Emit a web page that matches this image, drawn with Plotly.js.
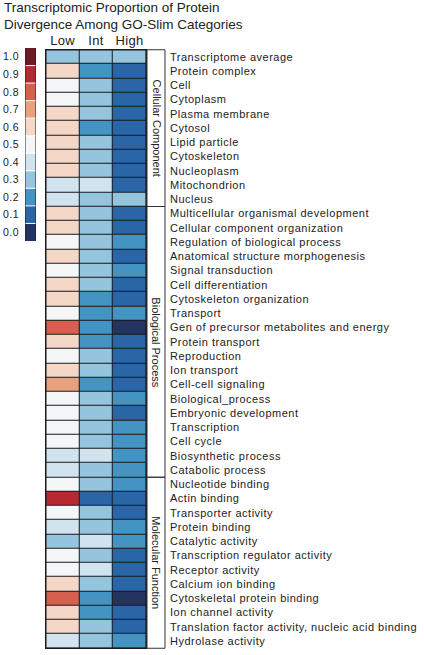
<!DOCTYPE html>
<html>
<head>
<meta charset="utf-8">
<script src="https://cdn.plot.ly/plotly-3.0.1.min.js"></script>
<style>
html,body{margin:0;padding:0;background:#fff;}
#chart{width:424px;height:655px;}
#chart .ytick text, #chart .y2tick text {letter-spacing:0.5px;}
#chart .xtick text {letter-spacing:0.3px;}
</style>
</head>
<body>
<div id="chart"></div>
<script>
// ---- data ----
const columns = ["Low", "Int", "High"];
const rowLabels = [
  "Transcriptome average",
  "Protein complex", "Cell", "Cytoplasm", "Plasma membrane", "Cytosol",
  "Lipid particle", "Cytoskeleton", "Nucleoplasm", "Mitochondrion", "Nucleus",
  "Multicellular organismal development", "Cellular component organization",
  "Regulation of biological process", "Anatomical structure morphogenesis",
  "Signal transduction", "Cell differentiation", "Cytoskeleton organization",
  "Transport", "Gen of precursor metabolites and energy", "Protein transport",
  "Reproduction", "Ion transport", "Cell-cell signaling", "Biological_process",
  "Embryonic development", "Transcription", "Cell cycle", "Biosynthetic process",
  "Catabolic process",
  "Nucleotide binding", "Actin binding", "Transporter activity", "Protein binding",
  "Catalytic activity", "Transcription regulator activity", "Receptor activity",
  "Calcium ion binding", "Cytoskeletal protein binding", "Ion channel activity",
  "Translation factor activity, nucleic acid binding", "Hydrolase activity"
];
const lowVals = [
  0.3,
  0.6, 0.5, 0.5, 0.6, 0.6, 0.6, 0.6, 0.6, 0.4, 0.4,
  0.6, 0.6, 0.5, 0.6, 0.5, 0.6, 0.6, 0.5, 0.8, 0.6,
  0.5, 0.6, 0.7, 0.5, 0.5, 0.5, 0.5, 0.4, 0.4,
  0.5, 0.9, 0.5, 0.4, 0.3, 0.5, 0.5, 0.6, 0.8, 0.6, 0.6, 0.4
];
const intVals = [
  0.3,
  0.2, 0.3, 0.3, 0.3, 0.2, 0.3, 0.3, 0.3, 0.4, 0.3,
  0.3, 0.3, 0.3, 0.3, 0.3, 0.3, 0.2, 0.2, 0.2, 0.2,
  0.3, 0.3, 0.2, 0.3, 0.3, 0.3, 0.3, 0.4, 0.3,
  0.3, 0.1, 0.3, 0.3, 0.4, 0.3, 0.4, 0.3, 0.2, 0.2, 0.3, 0.3
];
const highVals = [
  0.3,
  0.1, 0.1, 0.1, 0.1, 0.1, 0.1, 0.1, 0.1, 0.1, 0.3,
  0.1, 0.1, 0.2, 0.1, 0.2, 0.1, 0.1, 0.2, 0.0, 0.1,
  0.1, 0.1, 0.1, 0.2, 0.1, 0.2, 0.2, 0.2, 0.2,
  0.2, 0.1, 0.1, 0.2, 0.2, 0.1, 0.1, 0.1, 0.0, 0.1, 0.1, 0.2
];
const groupNames = ["Cellular Component", "Biological Process", "Molecular Function"];
const groupSizes = [11, 19, 12];

const legendVals = [1.0, 0.9, 0.8, 0.7, 0.6, 0.5, 0.4, 0.3, 0.2, 0.1, 0.0];
const legendLabels = ["1.0", "0.9", "0.8", "0.7", "0.6", "0.5", "0.4", "0.3", "0.2", "0.1", "0.0"];
const levelColors = [ // for 0.0 ... 1.0
  "#24335f", "#2a65a8", "#4393c3", "#95c5de", "#d0e3ef", "#f5f6f7",
  "#f5d7c8", "#e8a07f", "#d6604d", "#b52a32", "#6e1a24"
];

// ---- build ----
const W = 424, H = 655;
const px = v => v / W;
const py = v => 1 - v / H;

const n = levelColors.length;
const colorscale = [];
levelColors.forEach((c, k) => {
  colorscale.push([k / n, c]);
  colorscale.push([(k + 1) / n, c]);
});

const z = rowLabels.map((_, i) => [lowVals[i], intVals[i], highVals[i]]);

const FONT = "Liberation Sans, Arial, sans-serif";
const TXT = "#222";

const mainTrace = {
  type: "heatmap",
  x: columns, y: rowLabels, z: z,
  zmin: 0, zmax: 1, colorscale: colorscale, showscale: false,
  xgap: 1, ygap: 1, hoverinfo: "skip",
  xaxis: "x", yaxis: "y"
};
const legendTrace = {
  type: "heatmap",
  x: ["k"], y: legendLabels, z: legendVals.map(v => [v]),
  zmin: 0, zmax: 1, colorscale: colorscale, showscale: false,
  hoverinfo: "skip",
  xaxis: "x2", yaxis: "y2"
};

const shapes = [];
const annotations = [];
// light separators between legend swatches
for (let i = 0; i < legendLabels.length - 1; i++) {
  shapes.push({type: "line", xref: "x2", yref: "y2", x0: -0.5, x1: 0.5, y0: i + 0.5, y1: i + 0.5,
    line: {color: "#ffffff", width: 1}});
}
// outer frame of heatmap
shapes.push({type: "rect", xref: "x", yref: "y", x0: -0.5, x1: columns.length - 0.5,
  y0: -0.5, y1: rowLabels.length - 0.5,
  line: {color: "#1a1a1a", width: 1.5}, fillcolor: "rgba(0,0,0,0)"});
// group brackets
let start = 0;
groupSizes.forEach((sz, g) => {
  const y0 = start - 0.5, y1 = start + sz - 0.5;
  shapes.push({type: "rect", xref: "paper", yref: "y", x0: px(147), x1: px(165), y0: y0, y1: y1,
    line: {color: "#333", width: 1}, fillcolor: "rgba(0,0,0,0)"});
  annotations.push({xref: "paper", yref: "y", x: px(156.5), y: (y0 + y1) / 2, text: groupNames[g],
    textangle: 90, showarrow: false, font: {family: FONT, size: 11, color: TXT},
    xanchor: "center", yanchor: "middle"});
  start += sz;
});

const layout = {
  width: W, height: H,
  margin: {l: 0, r: 0, t: 0, b: 0},
  paper_bgcolor: "#ffffff",
  plot_bgcolor: "#1a1a1a",
  showlegend: false,
  title: {
    text: "Transcriptomic Proportion of Protein<br>Divergence Among GO-Slim Categories",
    x: px(4), xanchor: "left", xref: "paper",
    y: py(11.5), yanchor: "middle", yref: "container",
    font: {family: FONT, size: 13.5, color: TXT}
  },
  xaxis: {
    domain: [px(45), px(147)], type: "category", side: "top",
    showgrid: false, zeroline: false, showline: false, ticks: "",
    tickfont: {family: FONT, size: 13, color: TXT}, ticklabelstandoff: 0,
    fixedrange: true
  },
  yaxis: {
    domain: [py(649), py(49)], type: "category", autorange: "reversed",
    side: "right", showgrid: false, zeroline: false, showline: false, ticks: "",
    tickfont: {family: FONT, size: 11, color: TXT}, ticklabelstandoff: 22,
    fixedrange: true
  },
  xaxis2: {
    domain: [px(25), px(36)], anchor: "y2", showticklabels: false, showgrid: false,
    zeroline: false, showline: false, ticks: "", fixedrange: true
  },
  yaxis2: {
    domain: [py(241), py(48)], anchor: "x2", type: "category", autorange: "reversed",
    showgrid: false, zeroline: false, showline: false, ticks: "",
    tickfont: {family: FONT, size: 10.5, color: TXT}, ticklabelstandoff: 5,
    fixedrange: true
  },
  shapes: shapes,
  annotations: annotations
};

Plotly.newPlot("chart", [mainTrace, legendTrace], layout, {displayModeBar: false, staticPlot: true});
</script>
</body>
</html>
